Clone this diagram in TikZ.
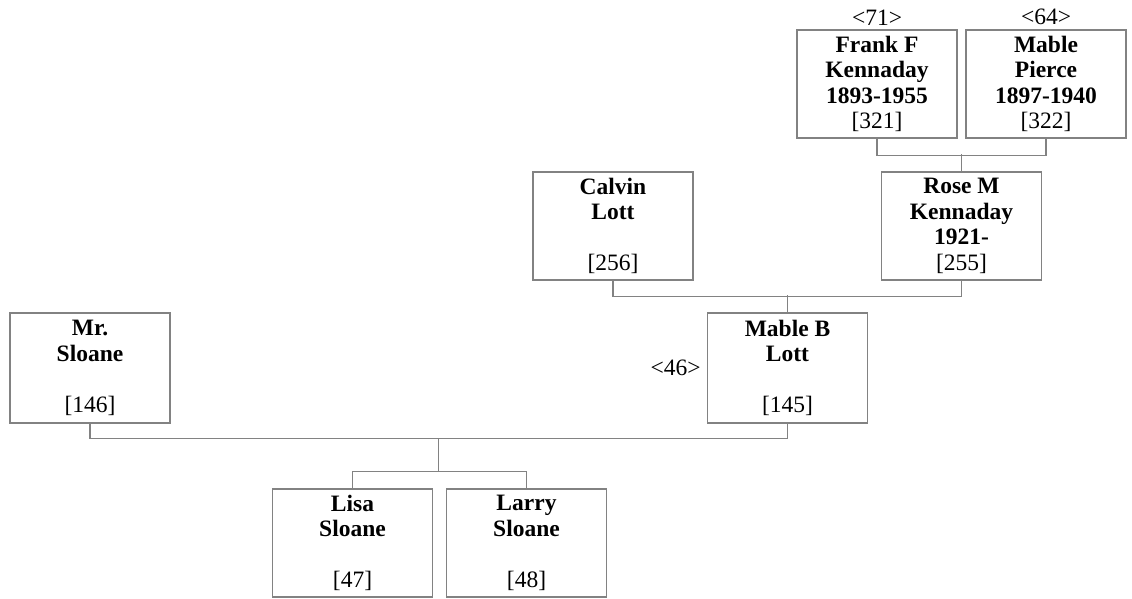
\documentclass[tikz,border=0pt]{standalone}
\usepackage{fontspec}
\setmainfont{Liberation Serif}
\usetikzlibrary{positioning,calc}
\definecolor{linegray}{RGB}{130,130,130}
\tikzset{
  person/.style={draw=linegray, line width=1.3pt, minimum width=160pt, minimum height=108pt, align=center, inner sep=0pt},
  refno/.style={inner sep=0pt},
  link/.style={draw=linegray, line width=1.3pt}
}
\begin{document}
\begin{tikzpicture}[x=1pt, y=-1pt, font=\fontsize{23.5}{25.5}\selectfont]
\useasboundingbox (0,0) rectangle (1132,599);
% grandparents
\node[person] (frank) at (877,84) {\textbf{Frank F}\\\textbf{Kennaday}\\\textbf{1893-1955}\\{}[321]};
\node[person] (mpierce) at (1046,84) {\textbf{Mable}\\\textbf{Pierce}\\\textbf{1897-1940}\\{}[322]};
\node[refno, above=4pt of frank] (frankno) {<71>};
\node[refno, above=4pt of mpierce] (mpierceno) {<64>};
% parents
\node[person] (calvin) at (613,226) {\textbf{Calvin}\\\textbf{Lott}\\\mbox{}\\{}[256]};
\node[person] (rose) at (961.5,226) {\textbf{Rose M}\\\textbf{Kennaday}\\\textbf{1921-}\\{}[255]};
% couple
\node[person, minimum height=110pt] (mrsloane) at (90,368) {\textbf{Mr.}\\\textbf{Sloane}\\\mbox{}\\{}[146]};
\node[person, minimum height=110pt] (mableb) at (787.5,368) {\textbf{Mable B}\\\textbf{Lott}\\\mbox{}\\{}[145]};
\node[refno, left=6pt of mableb] (mablebno) {<46>};
% children
\node[person] (lisa) at (352.5,543) {\textbf{Lisa}\\\textbf{Sloane}\\\mbox{}\\{}[47]};
\node[person] (larry) at (526.5,543) {\textbf{Larry}\\\textbf{Sloane}\\\mbox{}\\{}[48]};
% family lines
\draw[link] (frank.south) -- ++(0,17) -| (mpierce.south);
\draw[link] (rose.north) -- ++(0,-17);
\draw[link] (calvin.south) -- ++(0,16) -| (rose.south);
\draw[link] (mableb.north) -- ++(0,-17);
\draw[link] (mrsloane.south) -- ++(0,15) -| (mableb.south);
\draw[link] (lisa.north) -- ++(0,-17) -| (larry.north);
\coordinate (couplebar) at ($(mrsloane.south)!0.5!(mableb.south)+(0,15)$);
\coordinate (kidsbar) at ($(lisa.north)!0.5!(larry.north)+(0,-17)$);
\draw[link] (couplebar) -- (couplebar |- kidsbar);
\end{tikzpicture}
\end{document}
